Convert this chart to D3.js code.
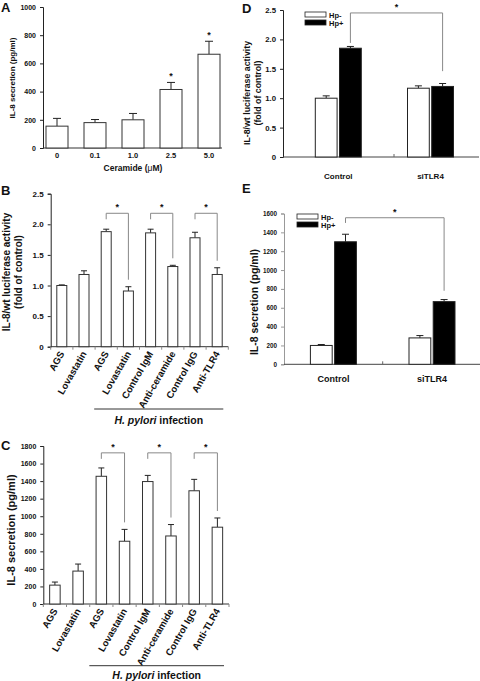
<!DOCTYPE html>
<html><head><meta charset="utf-8">
<script src="https://cdn.jsdelivr.net/npm/d3@7"></script>
<style>
body{margin:0;background:#fff}
text{font-family:Arial,"Liberation Sans",sans-serif;font-weight:bold;fill:#111}
</style>
</head><body>
<svg id="c" width="480" height="681"></svg>
<script>
// ---------- DATA ----------
const ceramideDoses = ["0", "0.1", "1.0", "2.5", "5.0"];
const ceramideIL8 = [155, 180, 200, 415, 665];
const ceramideIL8Err = [55, 22, 45, 50, 92];
const ceramideSig = [false, false, false, true, true];
const ticksA = [0, 200, 400, 600, 800, 1000];

const treatCats = ["AGS", "Lovastatin", "AGS", "Lovastatin", "Control IgM", "Anti-ceramide", "Control IgG", "Anti-TLR4"];
const lucValues = [1.00, 1.18, 1.88, 0.91, 1.86, 1.31, 1.78, 1.18];
const lucErr = [0.01, 0.06, 0.04, 0.07, 0.06, 0.02, 0.09, 0.11];
const il8Values = [215, 375, 1455, 715, 1395, 775, 1290, 875];
const il8Err = [35, 80, 95, 135, 70, 130, 130, 105];
const sigPairs = [[2, 3], [4, 5], [6, 7]];
const ticksLuc = [0, 0.5, 1.0, 1.5, 2.0, 2.5];
const ticksC = [0, 200, 400, 600, 800, 1000, 1200, 1400, 1600, 1800];

const groups = ["Control", "siTLR4"];
const series = ["Hp-", "Hp+"];
const lucHpNeg = [1.00, 1.17];
const lucHpNegErr = [0.04, 0.04];
const lucHpPos = [1.85, 1.20];
const lucHpPosErr = [0.03, 0.05];
const il8HpNeg = [200, 280];
const il8HpNegErr = [10, 25];
const il8HpPos = [1300, 665];
const il8HpPosErr = [80, 22];
const ticksE = [0, 200, 400, 600, 800, 1000, 1200, 1400, 1600];

const svg = d3.select("#c");
const fmt1 = d => d === 0 ? "0" : d.toFixed(1);

function letter(x, y, t) {
  svg.append("text").attr("x", x).attr("y", y).attr("font-size", 13).text(t);
}
function yAxis(y, x, ticks, fmt, fs, color) {
  const g = svg.append("g").attr("transform", `translate(${x},0)`)
    .call(d3.axisLeft(y).tickValues(ticks).tickFormat(fmt).tickSize(3).tickPadding(4));
  g.select(".domain").attr("stroke", color || "#222");
  g.selectAll(".tick line").attr("stroke", color || "#222");
  g.selectAll(".tick text").attr("font-size", fs).attr("font-family", "Arial, Liberation Sans, sans-serif").attr("font-weight", "bold").attr("fill", "#111");
  return g;
}
function yLabel(x, cy, lines, fs, lh) {
  const t = svg.append("text").attr("transform", `translate(${x},${cy}) rotate(-90)`)
    .attr("text-anchor", "middle").attr("font-size", fs);
  lines.forEach((l, i) => t.append("tspan").attr("x", 0).attr("dy", i === 0 ? 0 : lh).text(l));
}
function errBar(cx, y0, y1, cap) {
  svg.append("line").attr("x1", cx).attr("x2", cx).attr("y1", y0).attr("y2", y1).attr("stroke", "#222").attr("stroke-width", 1);
  svg.append("line").attr("x1", cx - cap / 2).attr("x2", cx + cap / 2).attr("y1", y1).attr("y2", y1).attr("stroke", "#222").attr("stroke-width", 1);
}
function bracket(xl, xr, yTop, yL, yR) {
  svg.append("path").attr("d", `M${xl},${yL}V${yTop}H${xr}V${yR}`).attr("fill", "none").attr("stroke", "#888").attr("stroke-width", 1);
  svg.append("text").attr("x", (xl + xr) / 2).attr("y", yTop - 3).attr("text-anchor", "middle").attr("font-size", 9).text("*");
}

// ---------- PANEL A ----------
{
  const y = d3.scaleLinear().domain([0, 1000]).range([148, 7]);
  const x = d3.scaleBand().domain(ceramideDoses).range([38, 228]);
  const bw = 22;
  yAxis(y, 43, ticksA, d3.format("d"), 7);
  svg.append("line").attr("x1", 43).attr("x2", 222).attr("y1", y(0)).attr("y2", y(0)).attr("stroke", "#333");
  ceramideDoses.forEach((d, i) => {
    const cx = x(d) + x.bandwidth() / 2;
    errBar(cx, y(ceramideIL8[i]), y(ceramideIL8[i] + ceramideIL8Err[i]), 8);
    svg.append("rect").attr("x", cx - bw / 2).attr("y", y(ceramideIL8[i])).attr("width", bw)
      .attr("height", y(0) - y(ceramideIL8[i])).attr("fill", "#fff").attr("stroke", "#333");
    svg.append("text").attr("x", cx).attr("y", 158).attr("text-anchor", "middle").attr("font-size", 7.5).text(d);
    if (ceramideSig[i]) svg.append("text").attr("x", cx).attr("y", y(ceramideIL8[i] + ceramideIL8Err[i]) - 3)
      .attr("text-anchor", "middle").attr("font-size", 9).text("*");
  });
  const t = svg.append("text").attr("x", 133).attr("y", 171).attr("text-anchor", "middle").attr("font-size", 8.5);
  t.append("tspan").text("Ceramide (");
  t.append("tspan").text("\u03BC").attr("font-weight", "normal");
  t.append("tspan").text("M)");
  yLabel(15, 78, ["IL-8 secretion (pg/ml)"], 8, 0);
  letter(1, 12, "A");
}

// ---------- PANELS B & C ----------
function treatPanel(opts) {
  const { y, x0, x1, ticks, tfmt, vals, errs, bw, topVal, ylab, ylabX, ylabY, ylabFs, lineY, textY, tfs, lfs } = opts;
  const x = d3.scaleBand().domain(d3.range(treatCats.length)).range([x0, x1]);
  const axY = y(0);
  yAxis(y, x0, ticks, tfmt, tfs);
  svg.append("line").attr("x1", x0).attr("x2", x1).attr("y1", axY).attr("y2", axY).attr("stroke", "#333");
  d3.range(treatCats.length + 1).forEach(i => {
    const xx = x0 + i * x.step();
    svg.append("line").attr("x1", xx).attr("x2", xx).attr("y1", axY).attr("y2", axY + 3).attr("stroke", "#888");
  });
  const cxs = [];
  treatCats.forEach((c, i) => {
    const cx = x(i) + x.bandwidth() / 2; cxs.push(cx);
    errBar(cx, y(vals[i]), y(vals[i] + errs[i]), 6);
    svg.append("rect").attr("x", cx - bw / 2).attr("y", y(vals[i])).attr("width", bw)
      .attr("height", axY - y(vals[i])).attr("fill", "#fff").attr("stroke", "#333");
    svg.append("text").attr("transform", `translate(${cx + 3},${axY + 7}) rotate(-60)`)
      .attr("text-anchor", "end").attr("font-size", lfs).text(c);
  });
  sigPairs.forEach(([a, b]) => {
    const yt = y(topVal);
    bracket(cxs[a], cxs[b], yt, yt + 6, y(vals[b] + errs[b]) - 7);
  });
  svg.append("line").attr("x1", cxs[2] - 12).attr("x2", x1 - 5).attr("y1", lineY).attr("y2", lineY).attr("stroke", "#333");
  const t = svg.append("text").attr("x", (cxs[2] - 12 + x1 - 5) / 2).attr("y", textY).attr("text-anchor", "middle").attr("font-size", 10.5);
  t.append("tspan").attr("font-style", "italic").text("H. pylori");
  t.append("tspan").text(" infection");
  yLabel(ylabX, ylabY, ylab, ylabFs, 11.5);
}
treatPanel({
  y: d3.scaleLinear().domain([0, 2.5]).range([346.7, 193.7]),
  x0: 50.7, x1: 228.3, ticks: ticksLuc, tfmt: fmt1, vals: lucValues, errs: lucErr, bw: 10,
  topVal: 2.18, ylab: ["IL-8/wt luciferase activity", "(fold of control)"], ylabX: 10, ylabY: 272, ylabFs: 10,
  lineY: 409, textY: 424, tfs: 8, lfs: 9.6
});
letter(1, 195, "B");
treatPanel({
  y: d3.scaleLinear().domain([0, 1800]).range([604, 446]),
  x0: 43.3, x1: 229, ticks: ticksC, tfmt: d3.format("d"), vals: il8Values, errs: il8Err, bw: 10.5,
  topVal: 1722, ylab: ["IL-8 secretion (pg/ml)"], ylabX: 15, ylabY: 530, ylabFs: 11,
  lineY: 665.7, textY: 679, tfs: 7, lfs: 9.6
});
letter(1, 450, "C");

// ---------- PANELS D & E ----------
function groupPanel(opts) {
  const { y, ax0, ax1, gx0, gx1, midTick, ticks, tfmt, tfs, neg, negE, pos, posE, topVal, leftEnd, rightEnd, legX, legY, ylab, ylabX, ylabY, ylabFs, catY, catFs, yColor } = opts;
  const gx = d3.scalePoint().domain(groups).range([gx0, gx1]);
  const sx = d3.scaleBand().domain(series).range([-23, 23]).paddingInner(0.1);
  const axY = y(0);
  yAxis(y, ax0, ticks, tfmt, tfs, yColor);
  svg.append("line").attr("x1", ax0).attr("x2", ax1).attr("y1", axY).attr("y2", axY).attr("stroke", "#444");
  svg.append("line").attr("x1", midTick).attr("x2", midTick).attr("y1", axY).attr("y2", axY - 3).attr("stroke", "#666");
  const data = [neg, pos], errs = [negE, posE];
  const tops = {};
  groups.forEach((g, gi) => {
    series.forEach((s, si) => {
      const bx = gx(g) + sx(s);
      const cx = bx + sx.bandwidth() / 2;
      const v = data[si][gi], e = errs[si][gi];
      errBar(cx, y(v), y(v + e), 7);
      svg.append("rect").attr("x", bx).attr("y", y(v)).attr("width", sx.bandwidth()).attr("height", axY - y(v))
        .attr("fill", si ? "#000" : "#fff").attr("stroke", "#222");
      tops[g + s] = { cx, ye: y(v + e) };
    });
    svg.append("text").attr("x", gx(g)).attr("y", catY).attr("text-anchor", "middle").attr("font-size", catFs).text(g);
  });
  const a = tops["ControlHp+"], b = tops["siTLR4Hp+"];
  bracket(a.cx, b.cx, y(topVal), y(leftEnd), y(rightEnd));
  series.forEach((s, si) => {
    svg.append("rect").attr("x", legX).attr("y", legY + si * 8).attr("width", 21).attr("height", 5)
      .attr("fill", si ? "#000" : "#fff").attr("stroke", "#222").attr("stroke-width", 0.8);
    svg.append("text").attr("x", legX + 24).attr("y", legY + si * 8 + 5.5).attr("font-size", 7.5).text(s);
  });
  yLabel(ylabX, ylabY, ylab, ylabFs, 11);
}
groupPanel({
  y: d3.scaleLinear().domain([0, 2.5]).range([157, 10]),
  ax0: 283, ax1: 479, gx0: 338.3, gx1: 430.5, midTick: 394, ticks: ticksLuc, tfmt: fmt1, tfs: 7.8,
  neg: lucHpNeg, negE: lucHpNegErr, pos: lucHpPos, posE: lucHpPosErr,
  topVal: 2.45, leftEnd: 1.94, rightEnd: 1.46, legX: 305, legY: 12,
  ylab: ["IL-8/wt luciferase activity", "(fold of control)"], ylabX: 250, ylabY: 93, ylabFs: 8.8,
  catY: 179, catFs: 8
});
letter(242, 13, "D");
groupPanel({
  y: d3.scaleLinear().domain([0, 1600]).range([364.3, 213.5]),
  ax0: 284, ax1: 480, gx0: 333.4, gx1: 432, midTick: 382.7, ticks: ticksE, tfmt: d3.format("d"), tfs: 6.3,
  neg: il8HpNeg, negE: il8HpNegErr, pos: il8HpPos, posE: il8HpPosErr,
  topVal: 1555, leftEnd: 1500, rightEnd: 780, legX: 297, legY: 214,
  ylab: ["IL-8 secretion (pg/ml)"], ylabX: 258, ylabY: 302, ylabFs: 10.5,
  catY: 382, catFs: 9, yColor: "#999"
});
letter(242, 193, "E");
</script>
</body></html>
